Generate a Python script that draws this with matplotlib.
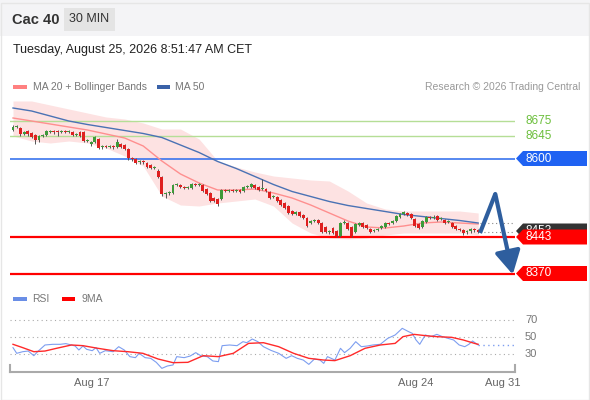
import matplotlib
matplotlib.use("Agg")
import matplotlib.pyplot as plt
import matplotlib.transforms as mtransforms
from matplotlib.patches import Polygon, Rectangle

plt.rcParams['font.family'] = ['Liberation Sans', 'DejaVu Sans']

# 30 min candles, index 0 = first bar shown (Aug 14)
opens = [8657, 8663, 8661, 8649, 8655, 8651, 8647, 8637, 8645, 8647,
         8653, 8655, 8655, 8653, 8655, 8653, 8653, 8647, 8653, 8653,
         8635, 8629, 8633, 8639, 8623, 8625, 8623, 8625, 8623, 8629,
         8627, 8619, 8601, 8599, 8593, 8595, 8591, 8587, 8581, 8575,
         8563, 8529, 8531, 8531, 8547, 8547, 8543, 8541, 8541, 8549,
         8547, 8547, 8539, 8531, 8521, 8519, 8519, 8537, 8535, 8537,
         8535, 8537, 8535, 8543, 8543, 8547, 8543, 8539, 8539, 8533,
         8523, 8523, 8517, 8511, 8505, 8495, 8489, 8493, 8487, 8481,
         8471, 8475, 8477, 8471, 8463, 8453, 8461, 8455, 8445, 8471,
         8471, 8463, 8453, 8467, 8471, 8467, 8459, 8455, 8457, 8461,
         8463, 8471, 8471, 8475, 8483, 8489, 8491, 8489, 8479, 8469,
         8463, 8473, 8483, 8481, 8485, 8479, 8477, 8473, 8471, 8465,
         8459, 8457, 8453, 8455, 8459, 8457]
closes = [8663, 8665, 8649, 8653, 8649, 8643, 8637, 8645, 8647, 8655,
          8655, 8653, 8653, 8655, 8653, 8655, 8647, 8649, 8645, 8635,
          8637, 8633, 8643, 8621, 8625, 8623, 8625, 8623, 8633, 8623,
          8619, 8601, 8599, 8591, 8595, 8593, 8583, 8581, 8583, 8563,
          8529, 8531, 8533, 8547, 8549, 8543, 8541, 8543, 8549, 8547,
          8549, 8535, 8529, 8515, 8515, 8509, 8537, 8535, 8537, 8535,
          8537, 8533, 8543, 8545, 8549, 8541, 8537, 8541, 8535, 8521,
          8525, 8515, 8507, 8501, 8491, 8489, 8493, 8485, 8481, 8465,
          8475, 8477, 8471, 8453, 8453, 8455, 8451, 8445, 8471, 8473,
          8459, 8445, 8469, 8471, 8463, 8461, 8453, 8457, 8459, 8465,
          8471, 8469, 8475, 8485, 8489, 8493, 8487, 8481, 8465, 8461,
          8475, 8483, 8481, 8483, 8477, 8481, 8471, 8475, 8463, 8459,
          8457, 8451, 8455, 8459, 8457, 8453]
highs = [8667, 8668, 8664, 8656, 8657, 8653, 8649, 8647, 8650, 8658,
         8658, 8657, 8657, 8658, 8657, 8657, 8656, 8652, 8655, 8655,
         8640, 8635, 8645, 8642, 8628, 8627, 8628, 8627, 8639, 8631,
         8629, 8621, 8603, 8601, 8598, 8597, 8593, 8589, 8586, 8579,
         8565, 8534, 8536, 8549, 8552, 8550, 8546, 8546, 8551, 8552,
         8551, 8549, 8541, 8533, 8523, 8521, 8539, 8540, 8540, 8539,
         8540, 8539, 8545, 8548, 8551, 8549, 8545, 8559, 8541, 8535,
         8528, 8525, 8519, 8513, 8507, 8497, 8496, 8495, 8489, 8483,
         8478, 8480, 8479, 8473, 8465, 8458, 8463, 8457, 8473, 8477,
         8473, 8465, 8471, 8473, 8473, 8469, 8461, 8460, 8462, 8467,
         8473, 8474, 8477, 8487, 8491, 8495, 8494, 8491, 8481, 8471,
         8477, 8486, 8486, 8487, 8488, 8484, 8479, 8478, 8473, 8467,
         8462, 8459, 8458, 8461, 8462, 8460]
lows = [8655, 8661, 8646, 8647, 8646, 8641, 8629, 8634, 8643, 8645,
        8651, 8650, 8645, 8651, 8651, 8651, 8645, 8645, 8643, 8633,
        8633, 8626, 8631, 8619, 8620, 8621, 8621, 8620, 8621, 8621,
        8617, 8598, 8596, 8589, 8590, 8590, 8581, 8579, 8579, 8561,
        8526, 8521, 8528, 8529, 8545, 8541, 8539, 8539, 8539, 8545,
        8545, 8533, 8527, 8513, 8513, 8506, 8517, 8533, 8533, 8533,
        8533, 8531, 8533, 8541, 8541, 8539, 8535, 8537, 8533, 8519,
        8521, 8513, 8505, 8499, 8489, 8487, 8487, 8483, 8479, 8463,
        8469, 8473, 8469, 8451, 8451, 8450, 8449, 8443, 8443, 8469,
        8457, 8443, 8451, 8465, 8461, 8459, 8451, 8453, 8455, 8459,
        8461, 8467, 8469, 8473, 8481, 8487, 8485, 8479, 8463, 8459,
        8461, 8471, 8479, 8479, 8475, 8477, 8469, 8471, 8461, 8457,
        8455, 8447, 8449, 8451, 8453, 8451]

# indicator readings, every 5 bars
ind_idx = [0, 5, 10, 15, 20, 25, 30, 35, 40, 45, 50, 55, 60, 65, 70, 75,
           80, 85, 90, 95, 100, 105, 110, 115, 120, 125]
ma50 = [8701, 8695, 8685, 8675, 8668, 8662, 8656, 8650, 8642, 8627, 8612,
        8594, 8580, 8564, 8548, 8534, 8524, 8514, 8506, 8500, 8494, 8488,
        8484, 8480, 8476, 8471]
ma20 = [8681, 8675, 8669, 8663, 8657, 8649, 8641, 8625, 8595, 8569, 8551,
        8537, 8537, 8539, 8531, 8521, 8507, 8491, 8475, 8463, 8461, 8465,
        8471, 8473, 8471, 8469]
bb_upper = [8715, 8715, 8707, 8699, 8691, 8683, 8679, 8671, 8659, 8659,
            8639, 8595, 8583, 8573, 8565, 8561, 8557, 8555, 8535, 8511,
            8499, 8495, 8495, 8495, 8495, 8491]
bb_lower = [8645, 8635, 8631, 8635, 8631, 8621, 8605, 8585, 8525, 8507,
            8505, 8511, 8515, 8519, 8505, 8471, 8451, 8441, 8439, 8441,
            8447, 8451, 8451, 8451, 8451, 8447]

rsi_idx = [0, 1, 2.6, 4.1, 5.6, 6.6, 8.6, 10.7, 12.7, 14.2, 15.7, 16.7,
           17.7, 18.8, 19.8, 21.3, 22.3, 23.3, 24.8, 26.9, 28.4, 29.9,
           31.4, 32.9, 33.9, 35.5, 37, 38.5, 40, 41.5, 43, 44, 46, 47.6,
           49.1, 50.6, 52.2, 53.7, 55.2, 56.2, 58.2, 60.2, 61.8, 62.8,
           64.3, 65.8, 67.3, 69.3, 71.4, 73.4, 74.9, 76.4, 78, 79.5, 81,
           82.5, 83.5, 84.5, 86.5, 88, 89.1, 90.6, 92.1, 93.6, 95.2, 96.7,
           98.7, 100.7, 102.7, 104.6, 106.3, 107.3, 108.3, 109.3, 110.8,
           112.3, 113.9, 115.4, 116.9, 118.4, 119.9, 121.4, 122.5, 123.5,
           125]
rsi = [37.5, 30.8, 32.7, 33.5, 28, 32.7, 40.6, 41.4, 41.4, 42.2, 40.6,
       39.4, 34.7, 39.4, 35.5, 33.9, 37.5, 30.8, 33.9, 32.7, 38.6, 34.7,
       26.9, 25.7, 30.8, 25.7, 24.9, 20.2, 13.1, 15.9, 17.1, 26.9, 25.7,
       27.6, 31.6, 27.6, 26.9, 21.8, 21, 39.8, 40.6, 39.8, 44.5, 43.3,
       47.6, 44.5, 38.6, 34.3, 30.8, 24.9, 28, 24.9, 22.9, 17.8, 24.1,
       22.9, 19, 26.9, 22.9, 36.7, 31.6, 36.7, 44.5, 38.6, 39.4, 40.6,
       41.4, 48.4, 52.4, 60.2, 56.3, 54.3, 46.5, 41.4, 52.4, 50.4, 53.1,
       50.4, 48.4, 46.5, 40.6, 38.6, 41.4, 45.3, 40.6]
rsi_ma_idx = [0, 2.6, 5.6, 8.6, 11.7, 15.7, 18.8, 22.8, 26.9, 30.9, 34.9,
              39, 43, 47, 51.1, 55.2, 59.2, 63.3, 67.3, 71.4, 75.4, 79.5,
              83.5, 86.5, 90.6, 94.6, 98.7, 102.7, 104.8, 107.8, 110.8,
              113.9, 117.9, 121, 124, 125]
rsi_ma = [41.4, 37.5, 32.7, 33.5, 36.7, 40.6, 39.8, 36.7, 33.9, 32.7, 30.8,
          24.1, 19.8, 20.2, 28, 26.9, 30.8, 42.5, 43.3, 38.6, 30.8, 24.9,
          22.9, 22.2, 28, 36.7, 40.6, 42.5, 50.4, 53.1, 51.6, 50.4, 49.6,
          46.5, 42.5, 41.4]

# key levels
resist_levels = [8675, 8645]
pivot = 8600
supports = [8443, 8370]
last_price = 8453

# forecast arrow (bar index, price)
path_idx = [125.5, 129.6, 134.3]
path_px = [8451, 8529, 8368]

day_ticks = [21.2, 108.3, 131.5]
day_labels = ["Aug 17", "Aug 24", "Aug 31"]

fig = plt.figure(figsize=(5.9, 4.0), dpi=100)
W, H = 590.0, 400.0

# header band
fig.patches.append(Rectangle((0, 1 - 36 / H), 1, 36 / H, transform=fig.transFigure,
                             fc="#f4f4f6", ec="none", zorder=0))
fig.patches.append(Rectangle((0.5 / W, 0.5 / H), 588 / W, 397 / H, transform=fig.transFigure,
                             fc="none", ec="#e6e6e6", lw=1, zorder=0))
fig.patches.append(Rectangle((64 / W, 1 - 31 / H), 51 / W, 23 / H, transform=fig.transFigure,
                             fc="#e4e4e4", ec="none", zorder=1))
fig.text(12 / W, 1 - 20.5 / H, "Cac 40", fontsize=10.5, fontweight="bold", color="#333333", va="center")
fig.text(89.5 / W, 1 - 19.5 / H, "30 MIN", fontsize=9, color="#333333", va="center", ha="center")
fig.text(13 / W, 1 - 49.5 / H, "Tuesday, August 25, 2026 8:51:47 AM CET", fontsize=9,
         color="#222222", va="center")

# legend rows
fig.patches.append(Rectangle((13 / W, 1 - 88.5 / H), 14 / W, 4 / H, transform=fig.transFigure,
                             fc="#ff8080", ec="none"))
fig.text(33 / W, 1 - 87 / H, "MA 20 + Bollinger Bands", fontsize=7.5, color="#777777", va="center")
fig.patches.append(Rectangle((157 / W, 1 - 88.5 / H), 13 / W, 4 / H, transform=fig.transFigure,
                             fc="#3a62a8", ec="none"))
fig.text(175 / W, 1 - 87 / H, "MA 50", fontsize=7.5, color="#777777", va="center")
fig.text(580 / W, 1 - 87 / H, "Research \u00a9 2026 Trading Central", fontsize=7.5,
         color="#999999", va="center", ha="right")

fig.patches.append(Rectangle((13 / W, 1 - 300.5 / H), 14 / W, 4 / H, transform=fig.transFigure,
                             fc="#6a8ee6", ec="none"))
fig.text(32 / W, 1 - 299 / H, "RSI", fontsize=7.5, color="#777777", va="center")
fig.patches.append(Rectangle((62 / W, 1 - 300.5 / H), 13 / W, 4 / H, transform=fig.transFigure,
                             fc="#ff0000", ec="none"))
fig.text(81 / W, 1 - 299 / H, "9MA", fontsize=7.5, color="#777777", va="center")

xlim = (-0.806, 134.9)

# price panel
ax = fig.add_axes([10 / W, (H - 286) / H, 505 / W, 190 / H])
ax.set_xlim(*xlim)
ax.set_ylim(8345, 8725)
ax.axis("off")

ax.fill_between(ind_idx, bb_lower, bb_upper, color="#fde2e2", lw=0, zorder=1)
ax.plot(ind_idx, ma20, color="#ff8f8f", lw=1, zorder=2)
ax.plot(ind_idx, ma50, color="#4a72b4", lw=1, zorder=2)

for lv in resist_levels:
    ax.axhline(lv, color="#b5de96", lw=1, zorder=1.5)
ax.axhline(pivot, color="#3a74ee", lw=1.2, zorder=1.5)
for lv in supports:
    ax.axhline(lv, color="#ff0000", lw=1.6, zorder=1.5)

idx = list(range(len(closes)))
up_col, dn_col = "#3e9a3a", "#df1f1f"
cols = [up_col if c >= o else dn_col for o, c in zip(opens, closes)]
ax.vlines(idx, lows, highs, colors="#555555", lw=0.7, zorder=3)
bottoms = [min(o, c) for o, c in zip(opens, closes)]
heights = [max(abs(c - o), 1.2) for o, c in zip(opens, closes)]
ax.bar(idx, heights, bottom=bottoms, width=0.78, color=cols, lw=0, zorder=4)

ax.hlines([last_price, ma50[-1]], len(closes) - 0.5, xlim[1], colors="#888888", lw=0.8,
          linestyles=(0, (1, 2.5)), zorder=2)

ax.plot(path_idx[:2], path_px[:2], color="#2e5e9e", lw=3, solid_capstyle="butt", zorder=6)
ax.annotate("", xy=(path_idx[2], path_px[2]), xytext=(path_idx[1], path_px[1]),
            arrowprops=dict(arrowstyle="-|>,head_length=1.0,head_width=0.55", lw=3,
                            color="#2e5e9e", shrinkA=0, shrinkB=0, mutation_scale=14),
            zorder=6)

blend = mtransforms.blended_transform_factory(fig.transFigure, ax.transData)


def price_tag(level, text, fc, z, tc="white"):
    hh = 15
    pts = [(516 / W, level), (523 / W, level + hh), (587 / W, level + hh),
           (587 / W, level - hh), (523 / W, level - hh)]
    ax.add_patch(Polygon(pts, closed=True, transform=blend, fc=fc, ec="none",
                         clip_on=False, zorder=z))
    ax.text(525 / W, level, text, transform=blend, fontsize=8.5, color=tc,
            va="center", ha="left", clip_on=False, zorder=z + 0.1)


for lv in resist_levels:
    ax.text(525 / W, lv, str(lv), transform=blend, fontsize=8.5, color="#6cbf3c",
            va="center", ha="left", clip_on=False)
price_tag(pivot, str(pivot), "#1f62f2", 7)
price_tag(last_price + 2, str(last_price), "#333333", 7)
price_tag(supports[0], str(supports[0]), "#ff0000", 7.5)
price_tag(supports[1], str(supports[1]), "#ff0000", 7.5)

# RSI panel
rx = fig.add_axes([10 / W, (H - 372) / H, 505 / W, 67 / H])
rx.set_xlim(*xlim)
rx.set_ylim(50 - 35 / 0.85, 50 + 32 / 0.85)
for s in ["top", "left", "right"]:
    rx.spines[s].set_visible(False)
rx.spines["bottom"].set_color("#aaaaaa")
rx.spines["bottom"].set_linewidth(1.5)
rx.plot([0, 0], [0, 0.1], transform=rx.transAxes, color="#aaaaaa", lw=1.5, clip_on=False)
rx.plot([1, 1], [0, 0.1], transform=rx.transAxes, color="#aaaaaa", lw=1.5, clip_on=False)
for lv in [30, 50, 70]:
    rx.axhline(lv, color="#aaaaaa", lw=0.8, ls=(0, (1, 3)))
    rx.text(525 / W, lv, str(lv), fontsize=8, color="#777777", va="center", ha="left",
            transform=mtransforms.blended_transform_factory(fig.transFigure, rx.transData))
rx.plot(rsi_idx, rsi, color="#7d9ef0", lw=0.8)
rx.plot(rsi_ma_idx, rsi_ma, color="#ff2a2a", lw=1)
rx.hlines(rsi[-1], rsi_idx[-1], xlim[1], colors="#7d9ef0", lw=1, linestyles=(0, (1, 2.5)))
rx.set_yticks([])
rx.set_xticks(day_ticks)
rx.set_xticklabels(day_labels, fontsize=8, color="#666666")
rx.tick_params(axis="x", length=0, pad=4)
rx.patch.set_alpha(0)

fig.savefig("out.png", dpi=100)
